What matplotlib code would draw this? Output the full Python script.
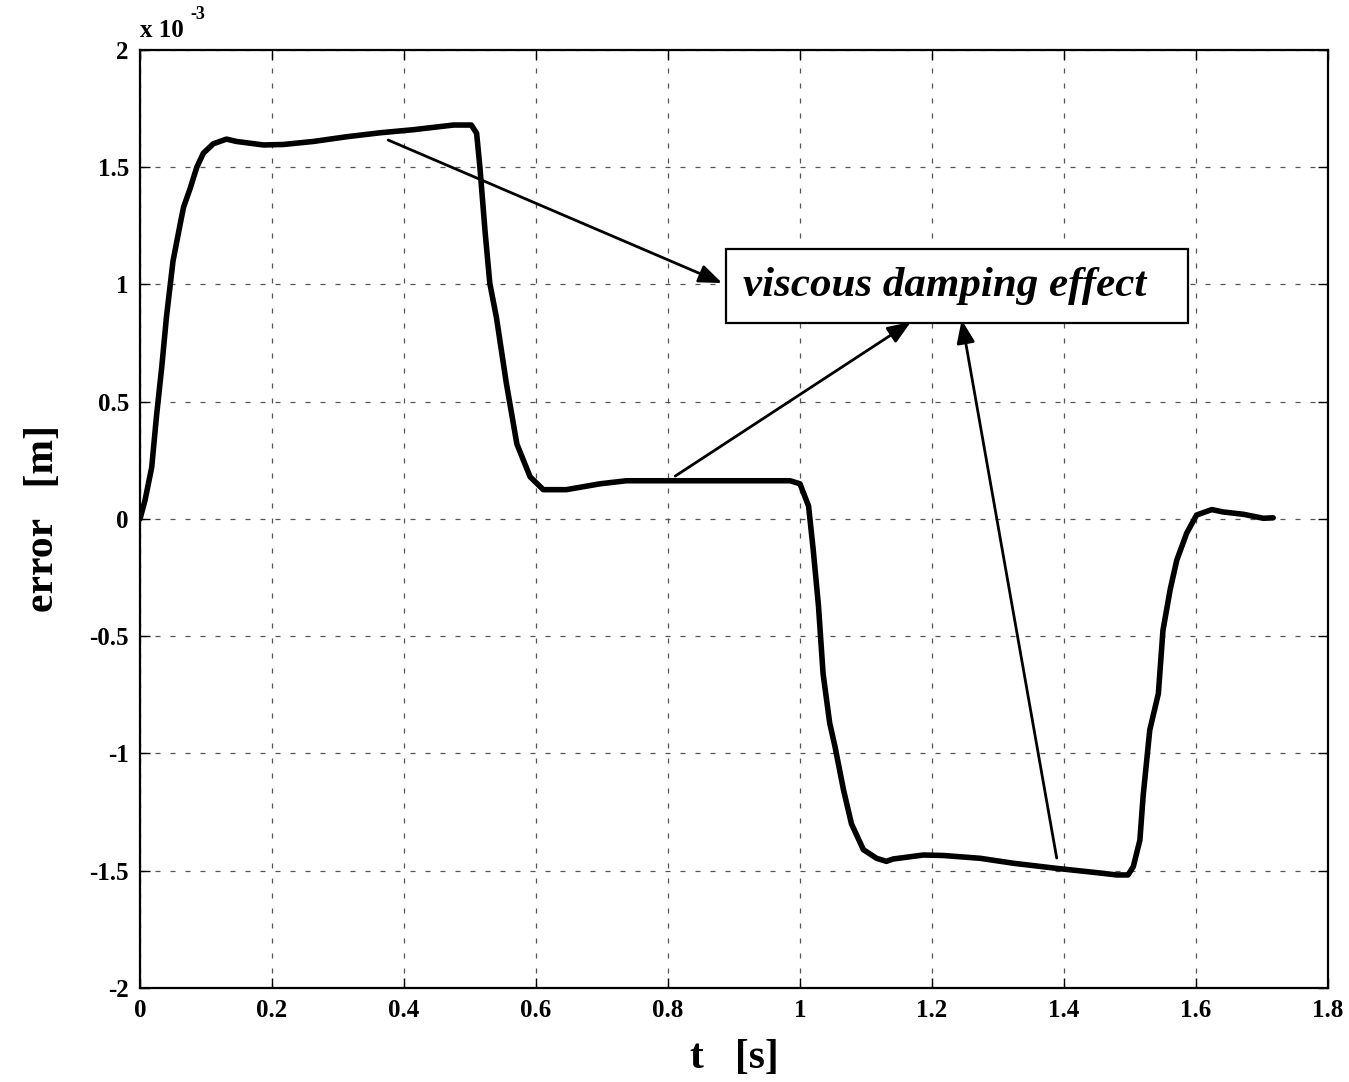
import matplotlib
matplotlib.use("Agg")
import matplotlib.pyplot as plt
from matplotlib.patches import Rectangle
from matplotlib.ticker import FuncFormatter

# Tracking error of the positioning axis (values in units of 1e-3 m)
t = [0.0, 0.0076, 0.0177, 0.025, 0.033, 0.040, 0.050, 0.061, 0.066, 0.076,
     0.086, 0.096, 0.111, 0.131, 0.146, 0.187, 0.217, 0.263, 0.313, 0.364,
     0.414, 0.475, 0.502, 0.510, 0.515, 0.523, 0.530, 0.540, 0.555, 0.571,
     0.591, 0.611, 0.646, 0.697, 0.737, 0.985, 1.000, 1.013, 1.020, 1.028,
     1.035, 1.045, 1.053, 1.066, 1.078, 1.096, 1.116, 1.131, 1.141, 1.187,
     1.217, 1.273, 1.323, 1.389, 1.449, 1.480, 1.497, 1.505, 1.515, 1.520,
     1.530, 1.543, 1.550, 1.561, 1.571, 1.586, 1.601, 1.624, 1.641, 1.672,
     1.702, 1.717]
error = [0.0, 0.08, 0.22, 0.44, 0.65, 0.86, 1.10, 1.26, 1.33, 1.41,
         1.50, 1.56, 1.60, 1.62, 1.61, 1.595, 1.597, 1.61, 1.63, 1.647,
         1.66, 1.68, 1.68, 1.645, 1.50, 1.22, 1.005, 0.86, 0.58, 0.32,
         0.18, 0.125, 0.125, 0.15, 0.163, 0.163, 0.15, 0.055, -0.13, -0.37,
         -0.66, -0.87, -0.97, -1.156, -1.30, -1.41, -1.447, -1.46, -1.45, -1.433,
         -1.435, -1.447, -1.468, -1.49, -1.508, -1.518, -1.518, -1.483, -1.37, -1.18,
         -0.90, -0.745, -0.475, -0.30, -0.175, -0.06, 0.017, 0.04, 0.03, 0.02,
         0.003, 0.005]

x_ticks = [0, 0.2, 0.4, 0.6, 0.8, 1.0, 1.2, 1.4, 1.6, 1.8]
y_ticks = [-2, -1.5, -1, -0.5, 0, 0.5, 1, 1.5, 2]

label_text = "viscous damping effect"
# arrow tails (on the curve) and heads (at the label box)
arrow_tails = [(0.376, 1.616), (0.811, 0.183), (1.389, -1.446)]
arrow_heads = [(0.882, 1.006), (1.168, 0.840), (1.245, 0.849)]
box_x0, box_x1 = 0.888, 1.588
box_y0, box_y1 = 0.836, 1.151

plt.rcParams['font.family'] = ['Liberation Serif', 'DejaVu Serif']
plt.rcParams['font.weight'] = 'bold'

fig = plt.figure(figsize=(13.49, 10.82), dpi=100)
ax = fig.add_axes([0.1038, 0.0869, 0.8806, 0.8669])

ax.plot(t, error, color='black', linewidth=4.0, solid_joinstyle='round',
        solid_capstyle='round', zorder=3)

ax.set_xlim(0, 1.8)
ax.set_ylim(-2, 2)
ax.set_xticks(x_ticks)
ax.set_yticks(y_ticks)
fmt = FuncFormatter(lambda v, p: "%g" % v)
ax.xaxis.set_major_formatter(fmt)
ax.yaxis.set_major_formatter(fmt)
ax.tick_params(direction='in', length=7, width=1, top=True, right=True,
               labelsize=18, pad=8)
for lab in ax.get_xticklabels() + ax.get_yticklabels():
    lab.set_fontweight('bold')
for s in ax.spines.values():
    s.set_linewidth(1.6)

ax.grid(True, color='#555555', linestyle=(0, (4, 8)), linewidth=0.9)

ax.set_xlabel("t   [s]", fontsize=30, fontweight='bold', labelpad=12)
ax.set_ylabel("error   [m]", fontsize=30, fontweight='bold', labelpad=20)

# exponent marker above the y axis
ax.annotate("x 10", xy=(0, 1), xycoords='axes fraction', xytext=(0, 9),
            textcoords='offset points', fontsize=18, fontweight='bold',
            ha='left', va='baseline')
ax.annotate("-3", xy=(0, 1), xycoords='axes fraction', xytext=(36, 22),
            textcoords='offset points', fontsize=13, fontweight='bold',
            ha='left', va='baseline')

# label box and arrows
ax.add_patch(Rectangle((box_x0, box_y0), box_x1 - box_x0, box_y1 - box_y0,
                       facecolor='white', edgecolor='black', linewidth=1.6,
                       zorder=4))
ax.text((box_x0 + box_x1) / 2 - 0.018, (box_y0 + box_y1) / 2, label_text,
        fontsize=31, fontweight='bold', style='italic', ha='center',
        va='center', zorder=5)
for (tx, ty), (hx, hy) in zip(arrow_tails, arrow_heads):
    ax.annotate("", xy=(hx, hy), xytext=(tx, ty),
                arrowprops=dict(arrowstyle='-|>,head_length=1.4,head_width=0.55',
                                color='black', linewidth=2, shrinkA=0,
                                shrinkB=0), zorder=5)

fig.savefig("out.png", dpi=100, facecolor='white')
